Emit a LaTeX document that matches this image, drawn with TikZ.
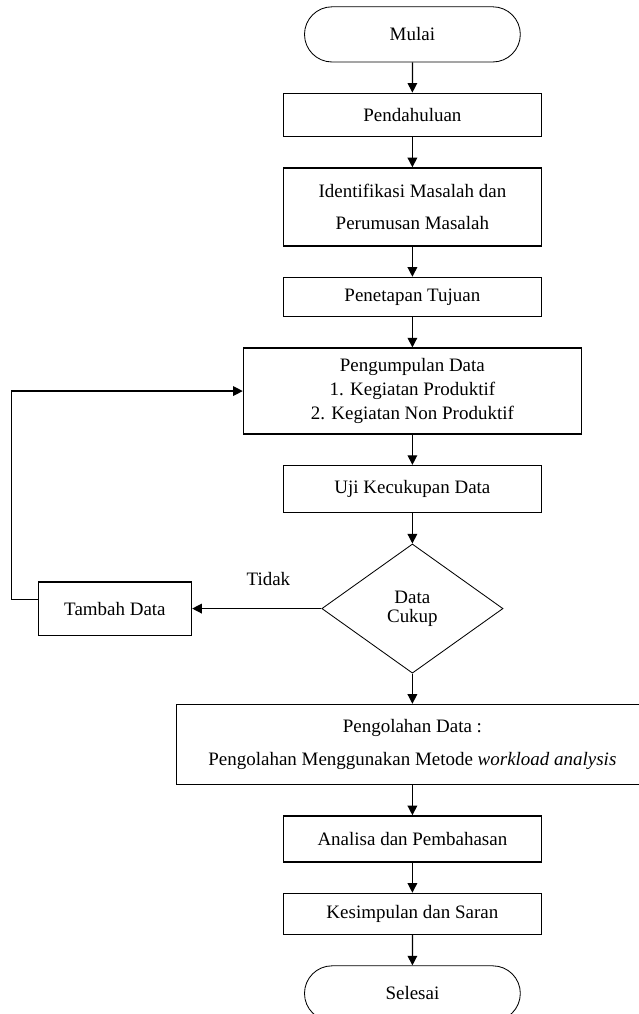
\documentclass[tikz,border=0pt]{standalone}
\usepackage{fontspec}
\setmainfont{Liberation Serif}
\usetikzlibrary{shapes.geometric, shapes.misc, arrows.meta, positioning}

\begin{document}
\begin{tikzpicture}[
		node distance=0.755cm,
		box/.style={draw, line width=0.9pt, align=center, font=\fontsize{13.5}{17}\selectfont, inner sep=2pt, minimum width=6.45cm},
		dec/.style={draw, diamond, line width=0.6pt, align=center, font=\fontsize{13.5}{13.5}\selectfont, inner sep=1pt, minimum width=4.53cm, minimum height=3.23cm},
		term/.style={draw, rounded rectangle, line width=0.6pt, font=\fontsize{13.5}{17}\selectfont, minimum width=5.63cm, minimum height=1.38cm},
		arr/.style={-{Triangle[length=2.4mm, width=2.4mm]}, line width=0.9pt}
	]
		\useasboundingbox (0,0) rectangle (15.95,-25.35);
		\node[term] (mulai) at (10.31,-0.86) {Mulai};
		\node[box, minimum height=1.08cm, below=of mulai] (pend) {Pendahuluan};
		\node[box, minimum height=1.95cm, below=of pend] (ident) {Identifikasi Masalah dan\\[5.7pt]Perumusan Masalah};
		\node[box, minimum height=0.98cm, below=of ident] (tujuan) {Penetapan Tujuan};
		\node[box, minimum width=8.45cm, minimum height=2.15cm, below=of tujuan] (kumpul) {Pengumpulan Data\\1. Kegiatan Produktif\\2. Kegiatan Non Produktif};
		\node[box, minimum height=1.18cm, below=of kumpul] (uji) {Uji Kecukupan Data};
		\node[dec, below=of uji] (cukup) {Data\\Cukup};
		\node[box, minimum width=3.83cm, minimum height=1.33cm, left=3.23cm of cukup] (tambah) {Tambah Data};
		\node[box, minimum width=11.8cm, minimum height=2cm, below=of cukup] (olah) {Pengolahan Data :\\[6.4pt]Pengolahan Menggunakan Metode \textit{workload analysis}};
		\node[box, minimum height=1.15cm, below=of olah] (analisa) {Analisa dan Pembahasan};
		\node[box, minimum height=1.03cm, below=of analisa] (simpul) {Kesimpulan dan Saran};
		\node[term, below=of simpul] (selesai) {Selesai};

		\draw[arr] (mulai) -- (pend);
		\draw[arr] (pend) -- (ident);
		\draw[arr] (ident) -- (tujuan);
		\draw[arr] (tujuan) -- (kumpul);
		\draw[arr] (kumpul) -- (uji);
		\draw[arr] (uji) -- (cukup);
		\draw[arr] (cukup) -- node[pos=0.41, above=0.44cm, font=\fontsize{13.5}{17}\selectfont] {Tidak} (tambah);
		\draw[arr] ([yshift=0.23cm]tambah.west) -- ++(-0.65,0) |- (kumpul.west);
		\draw[arr] (cukup) -- (olah);
		\draw[arr] (olah) -- (analisa);
		\draw[arr] (analisa) -- (simpul);
		\draw[arr] (simpul) -- (selesai);
	\end{tikzpicture}
\end{document}
